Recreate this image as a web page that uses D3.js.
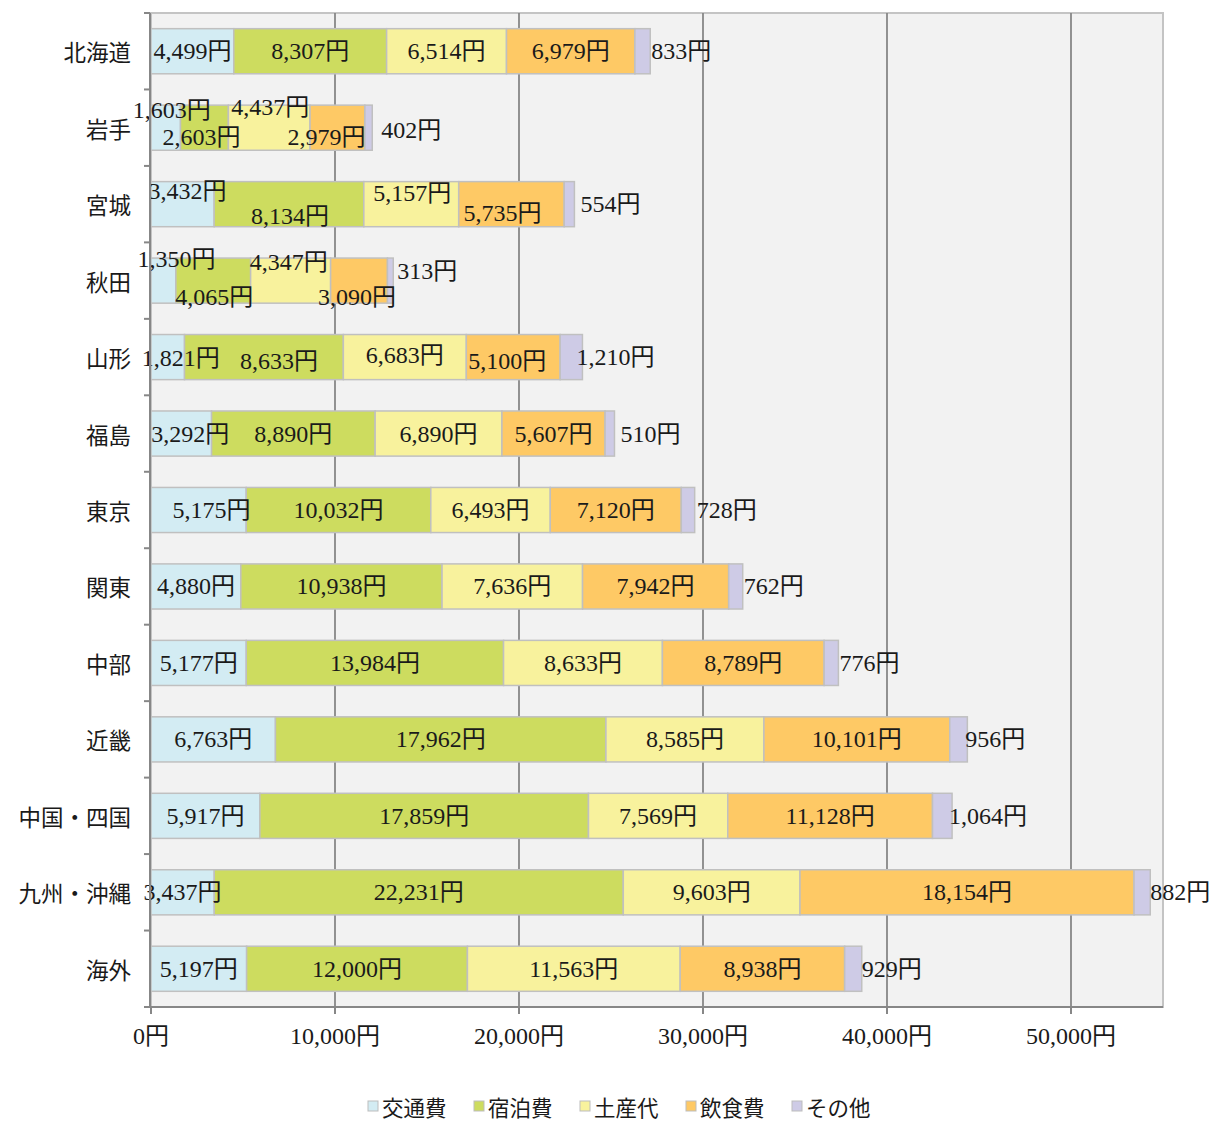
<!DOCTYPE html>
<html>
<head>
<meta charset="utf-8">
<script src="https://cdn.jsdelivr.net/npm/d3@7"></script>
<style>
body{margin:0;background:#fff;}
text{font-family:"Liberation Serif","Noto Sans CJK JP",serif;fill:#1a1a1a;}
</style>
</head>
<body>
<div id="chart"></div>
<script>
// data
var categories=["北海道","岩手","宮城","秋田","山形","福島","東京","関東","中部","近畿","中国・四国","九州・沖縄","海外"]
var seriesNames=["交通費","宿泊費","土産代","飲食費","その他"]
var transport=[4499,1603,3432,1350,1821,3292,5175,4880,5177,6763,5917,3437,5197]
var lodging=[8307,2603,8134,4065,8633,8890,10032,10938,13984,17962,17859,22231,12000]
var souvenir=[6514,4437,5157,4347,6683,6890,6493,7636,8633,8585,7569,9603,11563]
var food=[6979,2979,5735,3090,5100,5607,7120,7942,8789,10101,11128,18154,8938]
var other=[833,402,554,313,1210,510,728,762,776,956,1064,882,929]
var xTicks=[0,10000,20000,30000,40000,50000]

var colors=["#d3ecf3","#cddc5f","#f8f29d","#fec965","#cecbe6"]

// hand moved labels (px): "row-series":[dx,dy]
var nudge={
    "1-0":[6,-18],"1-1":[-3,9],"1-2":[1,-21],"1-3":[-11,9],
    "2-0":[5,-13],"2-1":[1,12],"2-2":[1,-11],"2-3":[-9,9],
    "3-0":[13,-22],"3-1":[1,16],"3-2":[-2,-19],"3-3":[-2,16],
    "4-0":[13,1],"4-1":[15,4],"4-2":[0,-2],"4-3":[-6,4],
    "5-0":[9,0],"6-0":[13,0]
}
// その他 label: gap after bar end, and dy
var otherShift=[1,9,6,4,-6,6,2,1,1,-2,-3,0,0]
var otherDy=[0,2,0,-10,0,0,0,0,0,0,0,0,0]

var svgWidth=1210
var svgHeight=1122
var plot={left:151,top:13,right:1163,bottom:1007}

var svg=d3.select("#chart").append("svg")
    .attr("width",svgWidth)
    .attr("height",svgHeight)

var x=d3.scaleLinear().domain([0,55000]).range([plot.left,plot.right])
var y=d3.scaleBand().domain(categories).range([plot.top,plot.bottom])
    .paddingInner(0.41).paddingOuter(0.205)
var step=y.step()

var rows=categories.map(function(c,i){
    return {cat:c,i:i,vals:[transport[i],lodging[i],souvenir[i],food[i],other[i]]}
})

// background + frame
svg.append("rect")
    .attr("x",plot.left).attr("y",plot.top)
    .attr("width",plot.right-plot.left).attr("height",plot.bottom-plot.top)
    .attr("fill","#f2f2f2").attr("stroke","#c4c4c4").attr("stroke-width",2)

// grid
svg.selectAll(".grid").data(xTicks.slice(1))
    .enter().append("line")
    .attr("x1",d=>x(d)).attr("x2",d=>x(d))
    .attr("y1",plot.top).attr("y2",plot.bottom)
    .attr("stroke","#878787").attr("stroke-width",1.8)

// bars
var fmt=d3.format(",")
rows.forEach(function(r){
    var acc=0
    var segs=r.vals.map(function(v,k){
        var s={k:k,v:v,x0:acc,x1:acc+v}
        acc+=v
        return s
    })
    var g=svg.append("g")
    g.selectAll("rect").data(segs).enter().append("rect")
        .attr("x",d=>x(d.x0))
        .attr("y",y(r.cat))
        .attr("width",d=>x(d.x1)-x(d.x0))
        .attr("height",y.bandwidth())
        .attr("fill",d=>colors[d.k])
        .attr("stroke","#c0c0c0")
        .attr("stroke-width",1.5)
    var cy=y(r.cat)+y.bandwidth()/2
    g.selectAll("text").data(segs).enter().append("text")
        .attr("x",function(d){
            if(d.k==4) return x(d.x1)+otherShift[r.i]
            var n=nudge[r.i+"-"+d.k]
            return (x(d.x0)+x(d.x1))/2+(n?n[0]:0)
        })
        .attr("y",function(d){
            if(d.k==4) return cy+otherDy[r.i]
            var n=nudge[r.i+"-"+d.k]
            return cy+(n?n[1]:0)
        })
        .attr("text-anchor",d=>d.k==4?"start":"middle")
        .attr("dominant-baseline","central")
        .attr("font-size","24px")
        .text(d=>fmt(d.v)+"円")
})

// left axis
svg.append("line")
    .attr("x1",plot.left-1).attr("x2",plot.left-1)
    .attr("y1",plot.top).attr("y2",plot.bottom)
    .attr("stroke","#878787").attr("stroke-width",2)
var bounds=d3.range(categories.length+1).map(k=>plot.top+k*step)
svg.selectAll(".ytick").data(bounds).enter().append("line")
    .attr("x1",plot.left-7).attr("x2",plot.left-1)
    .attr("y1",d=>d).attr("y2",d=>d)
    .attr("stroke","#878787").attr("stroke-width",2)
svg.selectAll(".ylab").data(categories).enter().append("text")
    .attr("x",131)
    .attr("y",d=>y(d)+y.bandwidth()/2)
    .attr("text-anchor","end")
    .attr("dominant-baseline","central")
    .attr("font-size","22.5px")
    .style("font-family","'Noto Sans CJK JP',sans-serif")
    .text(d=>d)

// bottom axis
svg.append("line")
    .attr("x1",plot.left-7).attr("x2",plot.right)
    .attr("y1",plot.bottom).attr("y2",plot.bottom)
    .attr("stroke","#878787").attr("stroke-width",2)
svg.selectAll(".xtick").data(xTicks).enter().append("line")
    .attr("x1",d=>x(d)).attr("x2",d=>x(d))
    .attr("y1",plot.bottom).attr("y2",plot.bottom+7)
    .attr("stroke","#878787").attr("stroke-width",2)
svg.selectAll(".xlab").data(xTicks).enter().append("text")
    .attr("x",d=>x(d))
    .attr("y",1036)
    .attr("text-anchor","middle")
    .attr("dominant-baseline","central")
    .attr("font-size","24px")
    .text(d=>fmt(d)+"円")

// legend
var itemW=106
var legX=368
var leg=svg.selectAll(".leg").data(seriesNames).enter().append("g")
    .attr("transform",(d,i)=>`translate(${legX+i*itemW},1105)`)
leg.append("rect")
    .attr("x",0).attr("y",-4)
    .attr("width",10).attr("height",10)
    .attr("fill",(d,i)=>colors[i])
    .attr("stroke","#bdbdbd").attr("stroke-width",1)
leg.append("text")
    .attr("x",14).attr("y",1)
    .attr("dominant-baseline","central")
    .attr("font-size","21.5px")
    .style("font-family","'Noto Sans CJK JP',sans-serif")
    .text(d=>d)
</script>
</body>
</html>
